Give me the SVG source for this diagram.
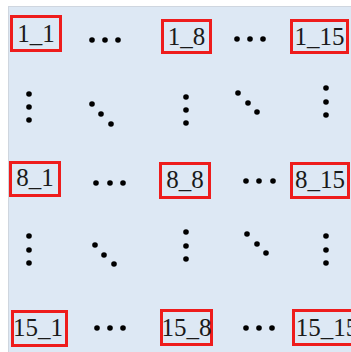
<svg xmlns="http://www.w3.org/2000/svg" width="351" height="352" viewBox="0 0 351 352">
  <style>
    .cell rect { fill: #dde8f4; stroke: #ee1c1c; stroke-width: 3; }
    .cell text { font-family: "Liberation Serif", "Times New Roman", serif; font-size: 25px; fill: #1a1a1a; text-anchor: middle; }
    .dots use { fill: #000; }
  </style>
  <defs>
    <circle id="d" r="2.8"/>
  </defs>
  <rect x="0" y="0" width="351" height="352" fill="#ffffff"/>
  <rect x="8.5" y="6.5" width="345" height="348" fill="#dde8f4" stroke="#cfd6df" stroke-width="1"/>

  <!-- row 1 -->
  <g id="n1_1" class="cell"><rect x="11.5" y="16.5" width="49" height="34"/><text x="36" y="42">1_1</text></g>
  <g id="n1_8" class="cell"><rect x="162.5" y="20.5" width="48" height="32"/><text x="186.5" y="45">1_8</text></g>
  <g id="n1_15" class="cell"><rect x="291.5" y="20.5" width="56" height="32"/><text x="319.5" y="45">1_15</text></g>

  <!-- row 8 -->
  <g id="n8_1" class="cell"><rect x="10.5" y="162.5" width="49" height="33"/><text x="35" y="185.5">8_1</text></g>
  <g id="n8_8" class="cell"><rect x="160.5" y="163.5" width="49" height="34"/><text x="185" y="187.5">8_8</text></g>
  <g id="n8_15" class="cell"><rect x="291.5" y="163.5" width="57" height="34"/><text x="320" y="187.5">8_15</text></g>

  <!-- row 15 -->
  <g id="n15_1" class="cell"><rect x="12.5" y="311.5" width="54" height="34"/><text x="38" y="336">15_1</text></g>
  <g id="n15_8" class="cell"><rect x="161.5" y="310.5" width="50" height="34"/><text x="186.5" y="336">15_8</text></g>
  <g id="n15_15" class="cell"><rect x="293.5" y="310.5" width="66" height="34"/><text x="327" y="336">15_15</text></g>

  <!-- ellipsis marks between cells -->
  <g id="connectors" class="dots">
    <!-- horizontal -->
    <use href="#d" x="92" y="40"/><use href="#d" x="105" y="40"/><use href="#d" x="118" y="40"/>
    <use href="#d" x="237" y="39"/><use href="#d" x="250" y="39"/><use href="#d" x="263" y="39"/>
    <use href="#d" x="96" y="183"/><use href="#d" x="110" y="183"/><use href="#d" x="123" y="183"/>
    <use href="#d" x="246" y="181"/><use href="#d" x="259" y="181"/><use href="#d" x="273" y="181"/>
    <use href="#d" x="97" y="328"/><use href="#d" x="110" y="328"/><use href="#d" x="123" y="328"/>
    <use href="#d" x="246" y="328"/><use href="#d" x="259" y="328"/><use href="#d" x="272" y="328"/>
    <!-- vertical -->
    <use href="#d" x="29" y="94"/><use href="#d" x="29" y="107"/><use href="#d" x="29" y="120"/>
    <use href="#d" x="186" y="97"/><use href="#d" x="186" y="110"/><use href="#d" x="186" y="123"/>
    <use href="#d" x="326" y="88"/><use href="#d" x="326" y="102"/><use href="#d" x="326" y="115"/>
    <use href="#d" x="29" y="236"/><use href="#d" x="29" y="250"/><use href="#d" x="29" y="263"/>
    <use href="#d" x="186" y="232"/><use href="#d" x="186" y="246"/><use href="#d" x="186" y="259"/>
    <use href="#d" x="326" y="236"/><use href="#d" x="326" y="250"/><use href="#d" x="326" y="263"/>
    <!-- diagonal -->
    <use href="#d" x="92" y="104"/><use href="#d" x="101" y="114"/><use href="#d" x="111" y="124"/>
    <use href="#d" x="238" y="93"/><use href="#d" x="248" y="103"/><use href="#d" x="257" y="112"/>
    <use href="#d" x="95" y="245"/><use href="#d" x="104" y="255"/><use href="#d" x="114" y="264"/>
    <use href="#d" x="247" y="234"/><use href="#d" x="257" y="244"/><use href="#d" x="266" y="253"/>
  </g>
</svg>
